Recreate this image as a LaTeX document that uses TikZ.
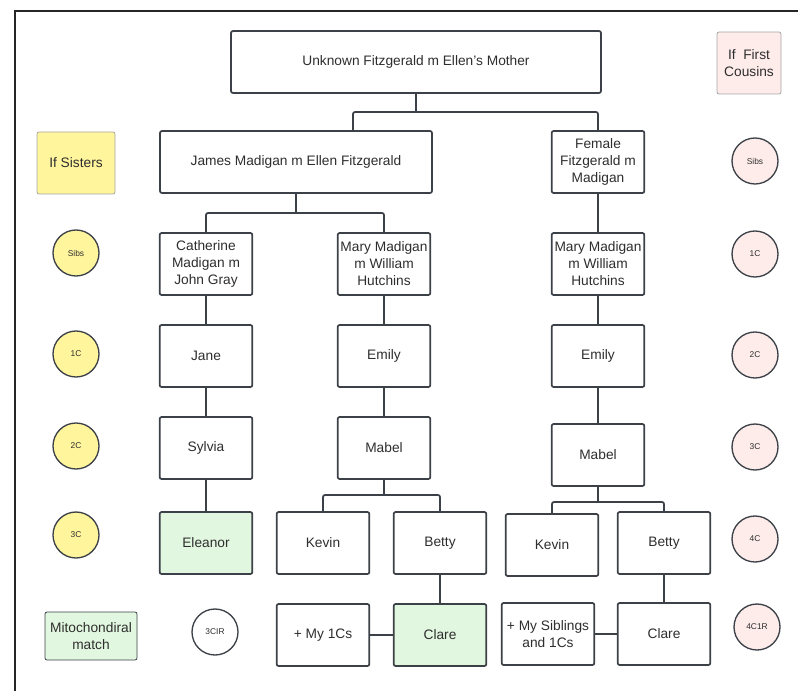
\documentclass[tikz,border=0pt]{standalone}
\usepackage{fontspec}
\setmainfont{Liberation Sans}
\usepackage{xcolor}
\definecolor{edgegray}{HTML}{3C4148}
\definecolor{ink}{HTML}{2E2E2E}
\definecolor{sisters}{HTML}{FFF59D}
\definecolor{cousins}{HTML}{FDECEA}
\definecolor{match}{HTML}{E2F7DF}

\begin{document}
\begin{tikzpicture}[x=0.75pt, y=-0.75pt,
      person/.style={draw=edgegray, line width=1.3pt, rounded corners=1.5pt, fill=white,
        minimum width=69.5pt, minimum height=46.5pt, inner sep=1pt, align=center,
        text=ink, font=\fontsize{10.3}{12.8}\selectfont},
      matchbox/.style={person, fill=match},
      keybox/.style={draw=gray!70, line width=0.6pt, rounded corners=1.5pt, align=center,
        text=ink, font=\fontsize{10.3}{12.8}\selectfont, inner sep=1pt},
      degree/.style={circle, draw=edgegray, line width=1pt, minimum size=34.5pt, inner sep=0pt,
        text=ink, font=\fontsize{6.3}{7.5}\selectfont},
      link/.style={draw=edgegray, line width=1.3pt, rounded corners=1.5pt},
      frameline/.style={draw=black!85, line width=2pt}]

      \useasboundingbox (0,0) rectangle (798,691);

      % Frame
      \draw[frameline] (15,691) -- (15,11) -- (798,11);

      % --- Generation 1 ---
      \node[person, minimum width=277.5pt] (top) at (416,62) {Unknown Fitzgerald m Ellen's Mother};

      % --- Generation 2 ---
      \node[person, minimum width=204pt] (james) at (296,162) {James Madigan m Ellen Fitzgerald};
      \node[person] (female) at (598,162) {Female\\Fitzgerald m\\Madigan};

      % --- Generation 3 ---
      \node[person] (catherine) at (206,264) {Catherine\\Madigan m\\John Gray};
      \node[person] (mary) at (384,264) {Mary Madigan\\m William\\Hutchins};
      \node[person] (mary2) at (598,264) {Mary Madigan\\m William\\Hutchins};

      % --- Generation 4 ---
      \node[person] (jane) at (206,356) {Jane};
      \node[person] (emily) at (384,356) {Emily};
      \node[person] (emily2) at (598,356) {Emily};

      % --- Generation 5 ---
      \node[person] (sylvia) at (206,448) {Sylvia};
      \node[person] (mabel) at (384,448) {Mabel};
      \node[person] (mabel2) at (598,455) {Mabel};

      % --- Generation 6 ---
      \node[matchbox] (eleanor) at (206,543) {Eleanor};
      \node[person] (kevin) at (323,543) {Kevin};
      \node[person] (betty) at (440,543) {Betty};
      \node[person] (kevin2) at (552,545) {Kevin};
      \node[person] (betty2) at (664,543) {Betty};

      % --- Generation 7 ---
      \node[person] (mycousins) at (323,635) {+ My 1Cs};
      \node[matchbox] (clare) at (440,635) {Clare};
      \node[person] (mysibs) at (548,634) {+ My Siblings\\and 1Cs};
      \node[person] (clare2) at (664,634) {Clare};

      % Connectors
      \coordinate (topfork) at (416,112);
      \coordinate (jamesin) at (353,131);
      \coordinate (jamesfork) at (296,213);
      \coordinate (mabelfork) at (384,495);
      \coordinate (mabelfork2) at (598,502);

      \draw[link] (top.south) -- (topfork);
      \draw[link] (jamesin) |- (topfork) -| (female.north);
      \draw[link] (james.south) -- (jamesfork);
      \draw[link] (catherine.north) |- (jamesfork) -| (mary.north);
      \draw[link] (female) -- (mary2);
      \draw[link] (mary2) -- (emily2);
      \draw[link] (emily2) -- (mabel2);
      \draw[link] (catherine) -- (jane);
      \draw[link] (jane) -- (sylvia);
      \draw[link] (sylvia) -- (eleanor);
      \draw[link] (mary) -- (emily);
      \draw[link] (emily) -- (mabel);
      \draw[link] (mabel.south) -- (mabelfork);
      \draw[link] (kevin.north) |- (mabelfork) -| (betty.north);
      \draw[link] (mabel2.south) -- (mabelfork2);
      \draw[link] (kevin2.north) |- (mabelfork2) -| (betty2.north);
      \draw[link] (betty) -- (clare);
      \draw[link] (clare) -- (mycousins);
      \draw[link] (betty2) -- (clare2);
      \draw[link] (clare2) -- (mysibs);

      % --- If sisters ---
      \node[keybox, fill=sisters, minimum width=58.5pt, minimum height=46.5pt] (ifsisters) at (76,163) {If Sisters};
      \node[degree, fill=sisters] (sisSibs) at (76,253) {Sibs};
      \node[degree, fill=sisters] (sis1C) at (76,354) {1C};
      \node[degree, fill=sisters] (sis2C) at (76,446) {2C};
      \node[degree, fill=sisters] (sis3C) at (76,535) {3C};
      \node[keybox, draw=edgegray, fill=match, minimum width=69pt, minimum height=36pt] (mito) at (91,636) {Mitochondiral\\match};
      \node[degree, fill=white] (sis3C1R) at (215,632) {3CIR};

      % --- If first cousins ---
      \node[keybox, fill=cousins, minimum width=48pt, minimum height=46.5pt] (ifcousins) at (749,63) {If\ \ First\\Cousins};
      \node[degree, fill=cousins] (cosSibs) at (755,161) {Sibs};
      \node[degree, fill=cousins] (cos1C) at (755,254) {1C};
      \node[degree, fill=cousins] (cos2C) at (755,355) {2C};
      \node[degree, fill=cousins] (cos3C) at (755,447) {3C};
      \node[degree, fill=cousins] (cos4C) at (755,539) {4C};
      \node[degree, fill=cousins] (cos4C1R) at (757,627) {4C1R};

    \end{tikzpicture}
\end{document}
